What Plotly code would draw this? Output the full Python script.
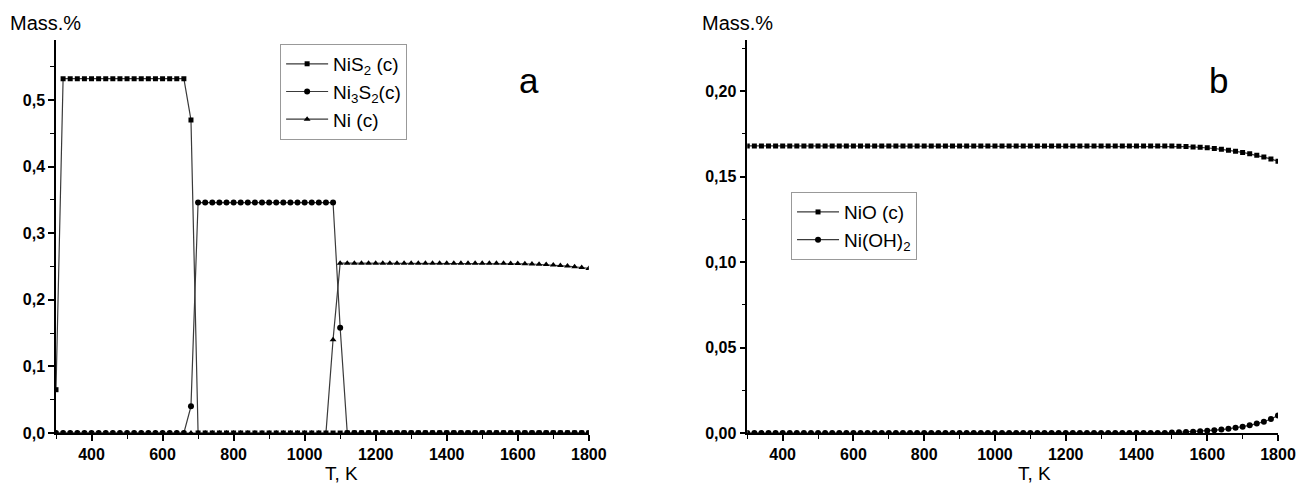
import plotly.graph_objects as go
from plotly.subplots import make_subplots

T = [300, 320, 340, 360, 380, 400, 420, 440, 460, 480, 500, 520, 540, 560, 580, 600, 620, 640, 660, 680,
     700, 720, 740, 760, 780, 800, 820, 840, 860, 880, 900, 920, 940, 960, 980, 1000, 1020, 1040, 1060, 1080,
     1100, 1120, 1140, 1160, 1180, 1200, 1220, 1240, 1260, 1280, 1300, 1320, 1340, 1360, 1380, 1400, 1420, 1440, 1460, 1480,
     1500, 1520, 1540, 1560, 1580, 1600, 1620, 1640, 1660, 1680, 1700, 1720, 1740, 1760, 1780, 1800]

# panel a
NiS2 = [0.065] + [0.532] * 18 + [0.47] + [0.0] * 56
Ni3S2 = [0.0] * 19 + [0.04] + [0.346] * 20 + [0.158] + [0.0] * 35
Ni = [0.0] * 39 + [0.14] + [0.255] * 21 + [0.2549, 0.2548, 0.2547, 0.2545, 0.2543, 0.254, 0.2537, 0.2533,
                                          0.2528, 0.2522, 0.2515, 0.2506, 0.2496, 0.2484, 0.247]
# panel b
NiO = [0.168] * 60 + [0.1679, 0.1678, 0.1676, 0.1674, 0.1672, 0.1669, 0.1665, 0.166,
                      0.1655, 0.1649, 0.1642, 0.1634, 0.1625, 0.1615, 0.1604, 0.159]
NiOH2 = [0.0] * 60 + [0.0003, 0.0004, 0.0006, 0.0008, 0.001, 0.0013, 0.0016, 0.002,
                      0.0025, 0.003, 0.0037, 0.0045, 0.0055, 0.0066, 0.0082, 0.0102]

x_ticks = [400, 600, 800, 1000, 1200, 1400, 1600, 1800]
ya_ticks = [0.0, 0.1, 0.2, 0.3, 0.4, 0.5]
ya_labels = ["0,0", "0,1", "0,2", "0,3", "0,4", "0,5"]
yb_ticks = [0.0, 0.05, 0.10, 0.15, 0.20]
yb_labels = ["0,00", "0,05", "0,10", "0,15", "0,20"]

fig = make_subplots(rows=1, cols=2, horizontal_spacing=0.13)
fig.update_layout(xaxis=dict(domain=[0, 0.436]), xaxis2=dict(domain=[0.5657, 1.0]))

LC = "#3a3a3a"
def add(y, name, sym, size, col, leg):
    fig.add_trace(go.Scatter(x=T, y=y, name=name, mode="lines+markers",
                             line=dict(color=LC, width=1.2),
                             marker=dict(symbol=sym, size=size, color="black"),
                             legend=leg), row=1, col=col)

add(NiS2, "NiS<sub>2</sub> (c)", "square", 5, 1, "legend")
add(Ni3S2, "Ni<sub>3</sub>S<sub>2</sub>(c)", "circle", 6, 1, "legend")
add(Ni, "Ni (c)", "triangle-up", 6, 1, "legend")
add(NiO, "NiO (c)", "square", 5, 2, "legend2")
add(NiOH2, "Ni(OH)<sub>2</sub>", "circle", 6, 2, "legend2")

def b(s): return "<b>" + s + "</b>"

axis_common = dict(showline=True, linecolor="black", linewidth=1.5, ticks="outside",
                   ticklen=6, tickwidth=1.5, tickcolor="black", showgrid=False, zeroline=False,
                   tickfont=dict(family="Liberation Sans", size=16, color="black"))
for c in (1, 2):
    fig.update_xaxes(range=[300, 1800], tickvals=x_ticks, ticktext=[b(str(v)) for v in x_ticks],
                     minor=dict(dtick=100, tick0=300, ticks="outside", ticklen=4, tickcolor="black", tickwidth=1.2),
                     row=1, col=c, **axis_common)
fig.update_yaxes(range=[0, 0.59], tickvals=ya_ticks, ticktext=[b(s) for s in ya_labels],
                 minor=dict(dtick=0.05, tick0=0, ticks="outside", ticklen=4, tickcolor="black", tickwidth=1.2),
                 row=1, col=1, **axis_common)
fig.update_yaxes(range=[0, 0.23], tickvals=yb_ticks, ticktext=[b(s) for s in yb_labels],
                 minor=dict(dtick=0.025, tick0=0, ticks="outside", ticklen=4, tickcolor="black", tickwidth=1.2),
                 row=1, col=2, **axis_common)

# the page places the figure 8 px in from the top-left corner; compensate
lfont = dict(family="Liberation Sans", size=19, color="black")
fig.update_layout(
    width=1300, height=476,
    margin=dict(l=48, r=20, t=32, b=51),
    plot_bgcolor="white", paper_bgcolor="white",
    font=dict(family="Liberation Sans", color="black"),
    legend=dict(x=0.1834, y=0.99, xanchor="left", yanchor="top", bgcolor="white",
                bordercolor="#999", borderwidth=1, font=lfont, tracegroupgap=0, itemwidth=42),
    legend2=dict(x=0.6015, y=0.613, xanchor="left", yanchor="top", bgcolor="white",
                 bordercolor="#999", borderwidth=1, font=lfont, tracegroupgap=0, itemwidth=42),
)

ann = []
def txt(x, y, s, size, xa="left"):
    ann.append(dict(x=x, y=y, xref="paper", yref="paper", text=s, showarrow=False,
                    xanchor=xa, yanchor="middle", font=dict(family="Liberation Sans", size=size, color="black")))
# page pixel -> paper coordinates (plot area spans page x 56..1288, y 40..433)
def px(xp): return (xp - 56) / 1232
def py(yp): return (433 - yp) / 393
txt(px(8), py(23), "Mass.%", 20)
txt(px(705), py(23), "Mass.%", 20)
txt(px(344), py(473), "T, K", 19, "center")
txt(px(1043), py(473), "T, K", 19, "center")
txt(px(533), py(80), "a", 35, "center")
txt(px(1228), py(80), "b", 35, "center")
fig.update_layout(annotations=ann)

fig.write_html("out.html")
